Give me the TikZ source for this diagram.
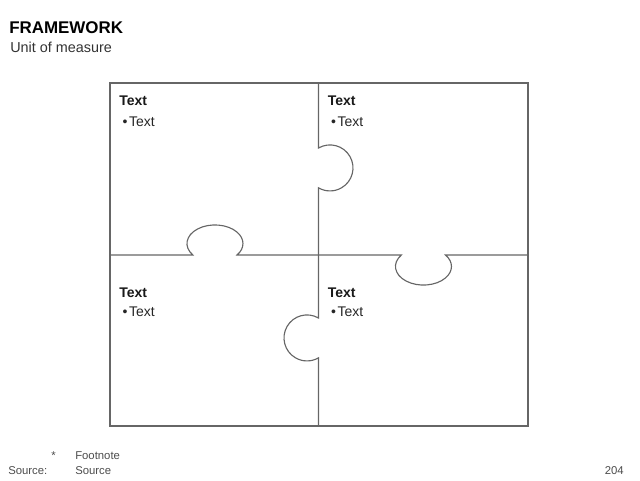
\documentclass[tikz,border=0pt]{standalone}
\usepackage{fontspec}
\setmainfont{Liberation Sans}
\begin{document}
\begin{tikzpicture}[x=0.75pt,y=-0.75pt,
  puzzle/.style={draw=black!60, line width=0.85pt},
  lbl/.style={anchor=base west, inner sep=0pt, font=\fontsize{10.5}{12}\selectfont\bfseries, text=black!90},
  bul/.style={anchor=base west, inner sep=0pt, font=\fontsize{10.5}{12}\selectfont, text=black!85},
  foot/.style={anchor=base west, inner sep=0pt, font=\fontsize{8.5}{10}\selectfont, text=black!70}]
\useasboundingbox (0,0) rectangle (640,480);
% titles
\node[anchor=base west, inner sep=0pt, font=\fontsize{12.7}{14}\selectfont\bfseries] (title) at (9,33) {FRAMEWORK};
\node[anchor=base west, inner sep=0pt, font=\fontsize{10.8}{12}\selectfont, text=black!80] (unit) at (10,52) {Unit of measure};
% outer frame
\draw[puzzle] (110,83) rectangle (528,426);
% upper vertical divider with knob to the right
\draw[puzzle] (318.5,83) -- (318.5,148) arc[start angle=-120, end angle=120, radius=23] -- (318.5,255);
% lower vertical divider with knob to the left
\draw[puzzle] (318.5,255) -- (318.5,318) arc[start angle=-60, end angle=-300, radius=23] -- (318.5,426);
% left horizontal divider with knob upwards
\draw[puzzle] (110,255) -- (192.9,255) arc[start angle=142, end angle=398, x radius=28, y radius=18.6] -- (318.5,255);
% right horizontal divider with knob downwards
\draw[puzzle] (318.5,255) -- (401.4,255) arc[start angle=218, end angle=-38, x radius=28, y radius=18.6] -- (528,255);
% labels
\node[lbl] (t1) at (119,105) {Text};
\node[bul] (b1) at (119,126) {\hspace*{2.5pt}\textbullet\hspace{1.2pt}Text};
\node[lbl] (t2) at (327.5,105) {Text};
\node[bul] (b2) at (327.5,126) {\hspace*{2.5pt}\textbullet\hspace{1.2pt}Text};
\node[lbl] (t3) at (119,297) {Text};
\node[bul] (b3) at (119,316) {\hspace*{2.5pt}\textbullet\hspace{1.2pt}Text};
\node[lbl] (t4) at (327.5,297) {Text};
\node[bul] (b4) at (327.5,316) {\hspace*{2.5pt}\textbullet\hspace{1.2pt}Text};
% footer
\node[foot] (star) at (51,459) {*};
\node[foot] (fn) at (75,459) {Footnote};
\node[foot] (src) at (8,474) {Source:};
\node[foot] (srct) at (75,474) {Source};
\node[foot, anchor=base east] (page) at (624,474) {204};
\end{tikzpicture}
\end{document}
